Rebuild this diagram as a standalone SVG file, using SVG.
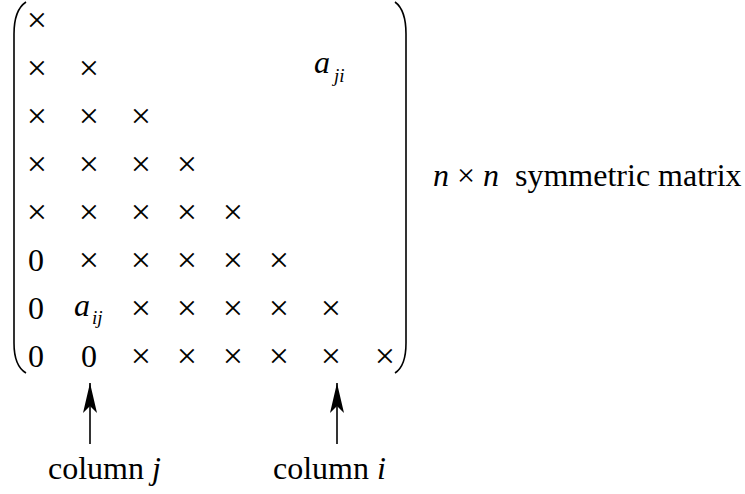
<svg xmlns="http://www.w3.org/2000/svg" width="745" height="494" viewBox="0 0 745 494" font-family="'Liberation Serif', 'Times New Roman', serif">
<defs>
<style>
text{font-family:'Liberation Serif','Times New Roman',serif;font-size:32px;fill:#000}
.c{text-anchor:middle}
.x{text-anchor:middle;font-size:36px}
.i{font-style:italic}
.s{font-size:19px;font-style:italic}
.br{fill:none;stroke:#000;stroke-width:1.6}
.ar{stroke:#000;stroke-width:1.6;fill:none}
</style>
<marker id="ah" viewBox="0 0 30 14" refX="30" refY="7" markerWidth="30" markerHeight="14" markerUnits="userSpaceOnUse" orient="auto">
<path d="M30,7 L0,0 L7,7 L0,14 Z" fill="#000"/>
</marker>
</defs>
<rect width="745" height="494" fill="#fff"/>
<g id="brackets">
<path class="br" d="M26,2 Q14,10 14,34 L14,343 Q14,366 26,373"/>
<path class="br" d="M395,2 Q406,10 406,34 L406,343 Q406,366 395,373"/>
</g>
<g id="matrix">
<text class="x" x="37" y="32">×</text>
<text class="x" x="37" y="80">×</text><text class="x" x="89" y="80">×</text>
<text class="x" x="37" y="128">×</text><text class="x" x="89" y="128">×</text><text class="x" x="141" y="128">×</text>
<text class="x" x="37" y="176">×</text><text class="x" x="89" y="176">×</text><text class="x" x="141" y="176">×</text><text class="x" x="187" y="176">×</text>
<text class="x" x="37" y="224">×</text><text class="x" x="89" y="224">×</text><text class="x" x="141" y="224">×</text><text class="x" x="187" y="224">×</text><text class="x" x="233" y="224">×</text>
<text class="c" x="36" y="271">0</text><text class="x" x="89" y="272">×</text><text class="x" x="141" y="272">×</text><text class="x" x="187" y="272">×</text><text class="x" x="233" y="272">×</text><text class="x" x="279" y="272">×</text>
<text class="c" x="36" y="319">0</text><text class="x" x="141" y="320">×</text><text class="x" x="187" y="320">×</text><text class="x" x="233" y="320">×</text><text class="x" x="279" y="320">×</text><text class="x" x="331" y="320">×</text>
<text class="c" x="36" y="367">0</text><text class="c" x="89" y="367">0</text><text class="x" x="141" y="368">×</text><text class="x" x="187" y="368">×</text><text class="x" x="233" y="368">×</text><text class="x" x="279" y="368">×</text><text class="x" x="331" y="368">×</text><text class="x" x="385" y="368">×</text>
</g>
<g id="aij">
<text x="74" y="316" class="i">a</text><text x="92" y="324" class="s">ij</text>
</g>
<g id="aji">
<text x="314" y="73" class="i">a</text><text x="334" y="82" class="s">ji</text>
</g>
<g id="label">
<text x="433" y="186"><tspan class="i">n</tspan> × <tspan class="i">n</tspan><tspan x="515">symmetric matrix</tspan></text>
</g>
<g id="connectors">
<line class="ar" x1="90" y1="444" x2="90" y2="383" marker-end="url(#ah)"/>
<line class="ar" x1="337" y1="444" x2="337" y2="383" marker-end="url(#ah)"/>
</g>
<g id="colj">
<text x="48" y="479">column <tspan class="i">j</tspan></text>
</g>
<g id="coli">
<text x="273" y="479">column <tspan class="i">i</tspan></text>
</g>
</svg>
